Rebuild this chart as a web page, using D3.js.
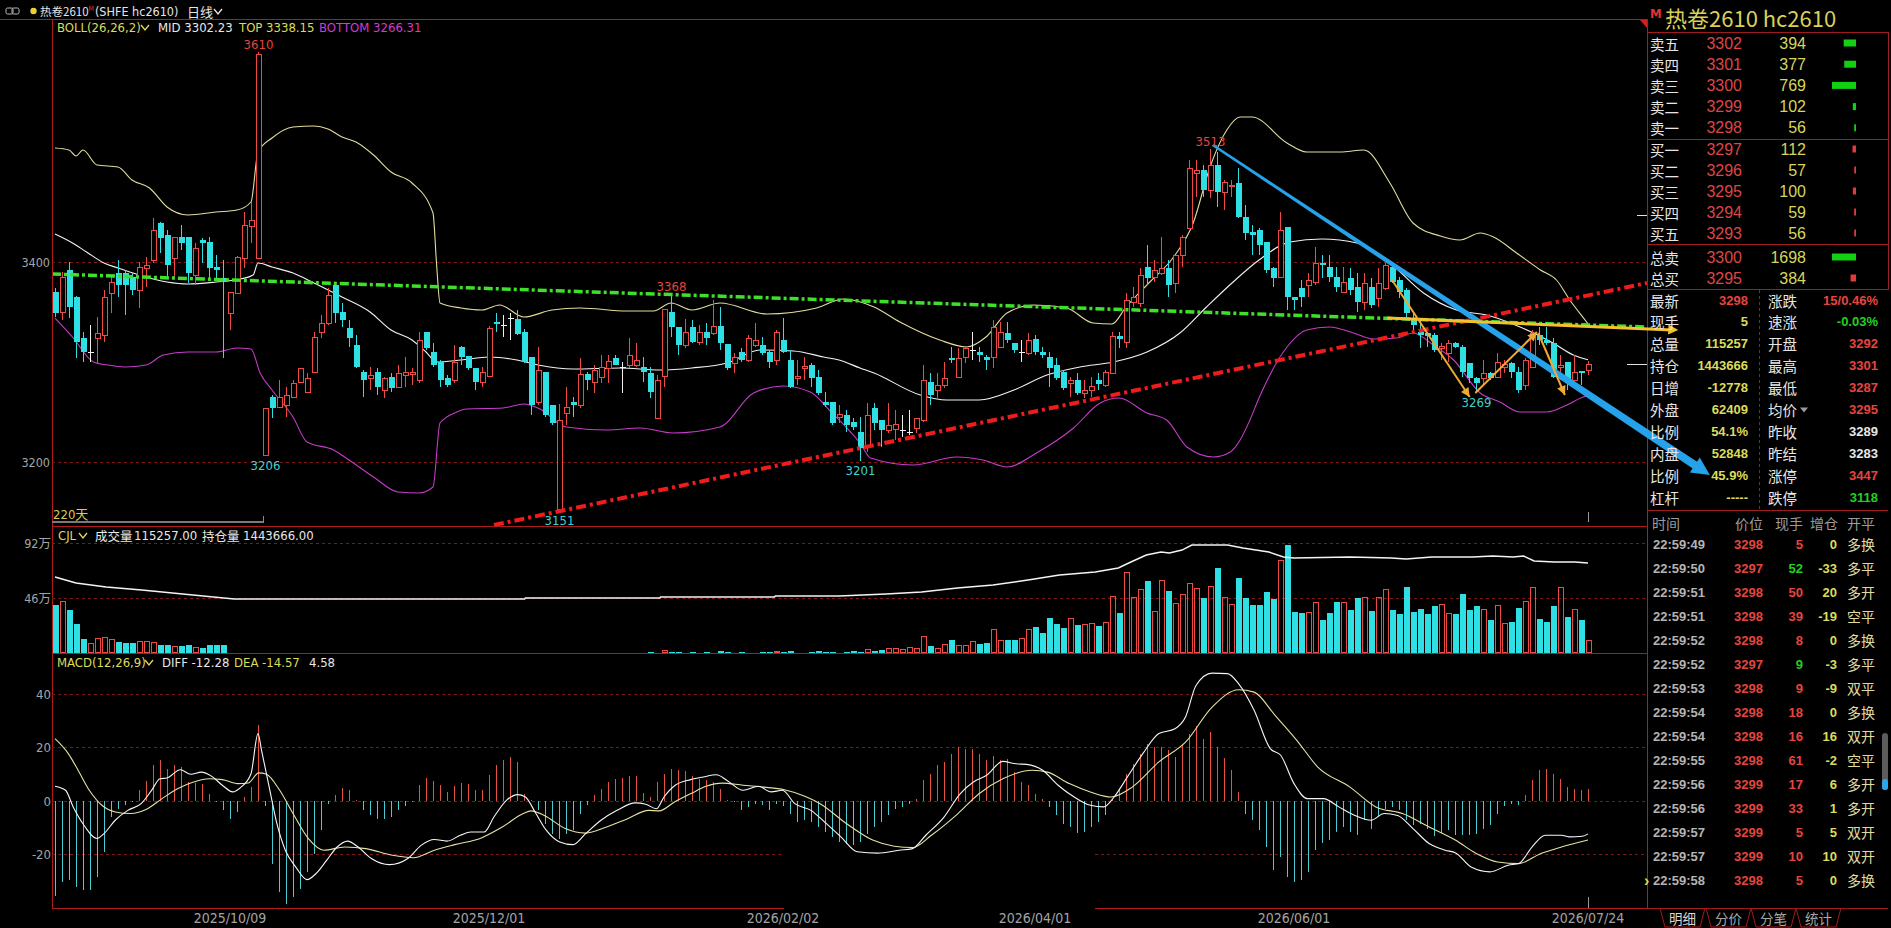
<!DOCTYPE html>
<html>
<head>
<meta charset="utf-8">
<title>热卷2610 日线</title>
<script src="https://cdn.jsdelivr.net/npm/d3@7"></script>
<style>
  html, body { margin: 0; background: #000; overflow: hidden; }
  svg { display: block; }
  text { font-family: "Liberation Sans Narrow", "DejaVu Sans Condensed", "Noto Sans CJK SC", sans-serif; }
  .cjk { font-family: "Noto Sans CJK SC", sans-serif; }
  .num { font-family: "Liberation Sans", Arial, sans-serif; }
</style>
</head>
<body>
<div id="chart"></div>
<script>
// daily candles [open, high, low, close], oldest first (220 days)
const ohlc = [
  [3370,3374,3345,3349],[3350,3390,3342,3385],[3392,3400,3344,3355],[3365,3366,3304,3320],[3324,3330,3300,3310],
  [3310,3337,3300,3310],[3324,3345,3299,3329],[3327,3372,3320,3365],[3369,3385,3349,3380],[3389,3402,3365,3377],
  [3389,3392,3347,3377],[3385,3389,3367,3372],[3372,3400,3354,3395],[3394,3405,3375,3397],[3402,3444,3399,3432],
  [3439,3440,3409,3424],[3427,3432,3384,3397],[3404,3425,3385,3425],[3425,3437,3412,3419],[3425,3425,3379,3389],
  [3387,3419,3377,3414],[3422,3424,3399,3419],[3420,3425,3382,3394],[3395,3407,3384,3392],[3384,3402,3304,3380],
  [3349,3370,3332,3370],[3369,3406,3368,3405],[3404,3450,3394,3437],[3436,3460,3419,3442],[3404,3610,3404,3608],
  [3207,3254,3206,3254],[3265,3267,3244,3254],[3255,3282,3254,3265],[3257,3275,3245,3267],[3265,3282,3264,3279],
  [3280,3294,3279,3294],[3270,3289,3269,3284],[3290,3330,3289,3325],[3330,3347,3324,3339],[3339,3374,3337,3367],
  [3377,3379,3339,3349],[3350,3359,3335,3342],[3334,3342,3315,3324],[3317,3327,3294,3295],[3290,3292,3265,3282],
  [3284,3295,3272,3287],[3290,3294,3267,3275],[3272,3285,3264,3284],[3285,3289,3270,3274],[3275,3297,3274,3289],
  [3287,3305,3275,3290],[3288,3294,3277,3290],[3282,3330,3279,3322],[3330,3330,3312,3314],[3310,3319,3295,3297],
  [3300,3302,3275,3282],[3284,3287,3275,3277],[3282,3317,3279,3300],[3315,3316,3297,3305],[3306,3306,3292,3294],
  [3294,3294,3272,3280],[3280,3295,3275,3290],[3286,3336,3285,3334],[3340,3349,3330,3338],[3337,3347,3325,3337],
  [3344,3349,3322,3344],[3343,3352,3327,3328],[3330,3333,3299,3300],[3305,3305,3247,3257],[3260,3315,3257,3292],
  [3290,3290,3245,3247],[3257,3257,3237,3239],[3153,3258,3151,3242],[3249,3275,3237,3255],[3260,3265,3245,3257],
  [3257,3304,3254,3288],[3288,3290,3272,3282],[3280,3297,3269,3292],[3285,3307,3279,3295],[3294,3307,3279,3301],
  [3304,3307,3297,3297],[3295,3300,3269,3295],[3297,3324,3294,3307],[3297,3319,3295,3302],[3295,3305,3280,3290],
  [3289,3295,3264,3270],[3244,3287,3244,3282],[3286,3353,3275,3353],[3350,3368,3325,3335],[3335,3335,3307,3317],
  [3317,3343,3314,3330],[3335,3342,3319,3320],[3320,3337,3317,3330],[3330,3339,3317,3324],[3329,3362,3327,3336],
  [3336,3355,3312,3319],[3318,3318,3292,3294],[3299,3309,3289,3305],[3310,3314,3300,3302],[3302,3327,3300,3324],
  [3317,3339,3315,3322],[3317,3325,3307,3309],[3310,3312,3294,3300],[3302,3332,3297,3330],[3322,3344,3309,3310],
  [3302,3312,3274,3275],[3284,3302,3277,3286],[3294,3305,3282,3296],[3297,3299,3275,3284],[3285,3292,3267,3269],
  [3260,3270,3255,3257],[3260,3260,3237,3239],[3245,3257,3239,3248],[3247,3252,3230,3237],[3240,3244,3232,3235],
  [3230,3245,3201,3214],[3215,3259,3210,3247],[3254,3259,3232,3239],[3242,3242,3215,3232],[3232,3259,3229,3237],
  [3233,3252,3222,3238],[3232,3247,3225,3232],[3230,3252,3227,3230],[3234,3244,3229,3244],[3242,3297,3240,3282],
  [3280,3289,3257,3267],[3272,3289,3264,3277],[3277,3300,3274,3284],[3304,3315,3299,3302],[3285,3314,3284,3304],
  [3305,3315,3299,3314],[3312,3330,3302,3312],[3310,3315,3300,3307],[3305,3307,3292,3302],[3305,3342,3294,3335],
  [3315,3340,3314,3330],[3329,3340,3319,3322],[3319,3319,3309,3312],[3310,3322,3300,3310],[3309,3329,3307,3322],
  [3323,3327,3307,3310],[3310,3315,3304,3307],[3305,3310,3275,3294],[3297,3304,3282,3284],[3290,3292,3272,3274],
  [3279,3285,3265,3282],[3282,3289,3267,3269],[3269,3282,3264,3272],[3272,3285,3265,3276],[3282,3289,3272,3278],
  [3277,3292,3275,3290],[3289,3330,3289,3326],[3326,3330,3314,3323],[3320,3369,3314,3362],[3360,3375,3355,3365],
  [3359,3394,3355,3387],[3395,3417,3377,3384],[3385,3402,3380,3392],[3389,3425,3387,3394],[3394,3402,3365,3377],
  [3379,3407,3369,3407],[3407,3427,3395,3425],[3434,3502,3434,3494],[3489,3502,3465,3492],[3492,3497,3465,3472],
  [3472,3513,3464,3497],[3497,3510,3455,3470],[3470,3482,3452,3480],[3476,3482,3465,3477],[3479,3494,3444,3445],
  [3445,3457,3422,3429],[3430,3437,3407,3427],[3432,3434,3407,3417],[3420,3420,3389,3392],[3394,3395,3375,3384],
  [3385,3450,3384,3432],[3435,3435,3352,3365],[3365,3365,3352,3362],[3374,3382,3355,3365],[3377,3389,3365,3382],
  [3380,3415,3377,3399],[3399,3407,3384,3397],[3395,3407,3380,3385],[3385,3395,3370,3375],[3370,3395,3369,3380],
  [3384,3394,3367,3372],[3375,3389,3350,3360],[3360,3389,3352,3379],[3375,3384,3354,3357],[3364,3394,3355,3379],
  [3374,3399,3372,3397],[3395,3399,3379,3380],[3382,3385,3364,3370],[3372,3374,3344,3349],[3344,3349,3329,3337],
  [3330,3342,3314,3327],[3329,3330,3315,3326],[3327,3329,3310,3312],[3314,3319,3302,3316],[3309,3322,3300,3319],
  [3319,3320,3314,3315],[3315,3317,3285,3290],[3299,3299,3279,3284],[3284,3285,3269,3279],[3284,3302,3277,3289],
  [3289,3290,3282,3284],[3285,3309,3284,3300],[3295,3302,3289,3298],[3299,3300,3284,3290],[3290,3295,3269,3272],
  [3277,3304,3272,3302],[3295,3332,3294,3329],[3327,3335,3317,3322],[3322,3335,3317,3319],[3319,3324,3284,3285],
  [3295,3307,3282,3297],[3300,3300,3272,3279],[3282,3307,3279,3290],[3291,3291,3277,3289],[3292,3301,3287,3298]
];

// daily volume, in 万 lots
const volumeWan = [
  40.1,43.5,36.0,24.3,11.7,8.4,12.5,13.4,11.7,9.2,8.4,8.4,10.0,10.0,9.2,6.7,6.7,5.9,5.9,6.7,5.0,4.2,6.7,6.7,6.7,
  0.3,0.2,0.9,0.3,0.4,0.3,0.2,0.2,0.1,0.2,0.2,0.1,0.2,0.2,0.3,0.2,0.1,0.2,0.2,0.1,0.2,0.2,0.1,0.2,0.2,
  0.2,0.1,0.2,0.3,0.2,0.2,0.1,0.2,0.2,0.2,0.3,0.2,0.3,0.2,0.2,0.3,0.2,0.3,0.2,0.3,0.4,0.3,1.0,0.4,0.3,
  0.4,0.3,0.4,0.5,1.2,0.4,0.8,0.9,0.5,0.4,0.6,1.0,2.5,1.2,0.8,1.0,0.6,0.7,0.9,1.0,1.4,0.8,0.7,0.9,1.2,
  0.8,0.9,1.1,1.3,1.0,1.6,0.9,1.0,1.2,1.5,0.9,1.2,1.0,
  1.1,1.7,1.1,3.1,2.0,2.5,3.9,3.9,3.3,4.7,3.9,14.2,5.9,3.9,7.2,10.9,6.7,6.7,10.3,7.5,8.4,20.1,10.9,10.9,10.9,
  12.3,20.1,22.0,16.4,29.0,24.2,20.6,29.0,23.4,24.0,24.8,22.6,25.6,47.9,33.2,67.4,46.5,53.2,60.2,35.1,61.0,51.8,41.5,49.3,58.2,
  54.1,45.7,56.0,70.8,46.5,41.0,62.4,45.7,40.1,40.1,51.3,45.1,77.8,90.3,34.0,33.2,34.0,42.4,27.6,33.2,42.4,42.4,36.0,45.7,46.5,
  35.1,47.1,53.2,36.0,32.3,54.9,34.0,36.5,32.3,39.3,40.7,33.2,32.3,49.3,36.0,39.3,36.5,27.6,39.9,24.8,25.9,37.3,43.5,54.9,28.4,
  25.9,39.3,55.5,29.8,36.5,27.6,10.9
];

// MACD histogram, one bar per day
const macdHist = [
  -35.6,-30.3,-29.6,-32.1,-33.4,-33.1,-28.4,-19,-6,-2.9,-1.6,-0.3,4.2,7.3,13.3,15.2,11.8,13.3,12.7,7.1,
  6.7,6.5,2.7,-0.5,-3.2,-6.6,-4.1,1.5,5.2,28.3,-2,-23.4,-34,-38.4,-35.9,-32.8,-26.5,-19.7,-11,-1,
  2.1,5,4.2,0.3,-3.5,-5.4,-6.6,-6.6,-6,-3.5,-2,-0.3,5.9,8.6,7.3,5.9,3.4,5.5,6.7,6.5,
  4.2,4.2,9.6,13.3,15.2,16.4,14.6,2.7,0.3,-3.5,-8.5,-12.2,-14.1,-12.2,-10.7,-4.7,-1.6,2.1,4.6,7.1,
  8.3,8.6,9.2,9.2,3,1.5,7.1,10.2,12.1,11.5,11.2,9.2,8.3,7.7,7.1,4.6,0.3,-0.3,-3.5,-2.2,
  -1.2,-1.6,-3.5,-1.2,-2,-4.7,-7.8,-7.2,-7.8,-9.7,-11.6,-13.4,-15.3,-15.9,-16.6,-15.3,-12.2,-9.7,-7.8,-5.4,
  -2.9,-2.2,-1,0.9,7.7,10,13.3,14.6,17.4,20.2,19.6,19.6,17.7,15.2,16.7,15.2,15.8,10.8,7.1,5.9,
  2.7,0.9,-2.2,-5.4,-8.5,-9.7,-12,-11.6,-9.7,-7.8,-5.4,0.9,4.6,10.2,13.9,17.7,21.2,20.2,20.2,18.9,
  16.4,20.8,25.2,27.9,23.3,25.8,20.2,16.2,11.5,3.4,-4.7,-7.2,-11,-17.2,-25.9,-20.9,-28.4,-30.3,-29.6,-26.5,
  -18.4,-15.7,-14.7,-11.6,-9.7,-11.6,-12.8,-7.2,-10.3,-6,-2.9,-2.2,-3.5,-7.2,-9.1,-8.5,-10.3,-13.2,-12,-11,
  -12.6,-12.8,-12.8,-12.2,-10.3,-9.1,-4.7,-2,-1,-1.6,2.1,7.7,11.5,12.1,10.2,8.3,5.2,4.6,4,4.58
];

// MACD lines: [day index, value]
const diffLine = [
  [0,5.5],[1.5,4],[2.6,-2.2],[4,-8.5],[6,-14],[7,-12.2],[8.6,-7.2],[10.4,-3.5],[12.3,-1],[13.8,4],[15,8.3],[16,8.6],
  [17.9,11.7],[19.4,10],[20.9,10.8],[22.4,9.2],[23.9,5.9],[25.4,3.4],[26.5,5],[28,10.2],[29,25.2],[29.5,19],[30.6,5.2],
  [31.7,-8.5],[32.9,-18.4],[34.4,-24.7],[36,-29.4],[37.3,-27.1],[38.8,-22.2],[40.3,-17.2],[41.8,-15],[43.3,-17.2],
  [45.2,-21.5],[47.8,-23.8],[50.4,-21.5],[52.3,-16.6],[54.2,-14.4],[56,-15],[57.9,-12.8],[59.4,-11.6],[61.3,-11.6],
  [62.7,-6],[64.6,0.5],[66.1,2.4],[67.2,1.5],[68.7,-4.7],[70.2,-11],[72.1,-15.3],[74,-16.3],[75.8,-12.2],[78,-7.2],
  [80.3,-3.5],[82.9,-0.7],[84.4,-1.2],[85.9,-2.9],[87,1.5],[88.6,5.9],[90.8,8],[92.6,9],[94.5,9.8],[96,7.7],[98.3,4],
  [100.5,5.5],[102.3,3.4],[103.9,4],[105.7,-1],[108,-3.5],[110,-8],[112.3,-13.5],[114.6,-19],[117.5,-19.5],
  [120.6,-18.4],[122.5,-17.8],[124.4,-12.8],[127,-6],[129.3,2.7],[131.2,7.1],[133.1,9.6],[135.4,14.8],[137.3,13.9],
  [138.8,13.7],[141.1,11.5],[143.3,5.9],[145.6,1.5],[147.9,-1.6],[149.8,-2.2],[151.3,1.5],[153.2,9],[155.4,17.7],
  [157.7,25.2],[160,27],[161.5,31.4],[163,43.2],[165.3,47.8],[167.5,47.6],[169.1,43.8],[171.3,33.9],[173.6,19.6],
  [175.1,17.1],[177,6.5],[178.9,0.9],[181.2,0.9],[183.4,-2.2],[185.7,-5.4],[188,-7.2],[189.9,-4.7],[191.8,-5.4],
  [194,-10.3],[196.3,-15.9],[198.6,-18.4],[200.1,-19.4],[202.3,-24.7],[205,-26.5],[207.6,-24],[209.1,-23.4],
  [211,-17.2],[212.9,-12.8],[215.2,-12.8],[216.3,-13.4],[218.2,-13.2],[219,-12.28]
];
const deaLine = [
  [0,23.3],[1.9,17.7],[3.3,11.5],[4.9,4],[6.7,-1.6],[8.6,-4.1],[10.8,-4.7],[13,-3.2],[15.3,0.9],[17.5,4.6],[19.8,7.1],
  [22,8.3],[23.9,8],[26.1,6.5],[27.6,6.7],[29.1,10.5],[30.2,10],[32.1,4],[34,-4.7],[36.2,-14.1],[38.4,-18.4],
  [41.4,-17.2],[44.4,-17.8],[48.2,-20.3],[51.2,-21.2],[54.2,-18.4],[57.1,-16.3],[60.9,-13.8],[63.9,-9.7],[66.9,-4.7],
  [68,-3.7],[69.9,-5.4],[72.9,-10.3],[75.8,-12],[78.8,-9.7],[81.8,-6.6],[84.8,-3.5],[86.3,-3.7],[88.5,-0.4],
  [90.8,2.7],[93,5.5],[95.3,6.7],[98.3,5.9],[101.3,5.2],[104.2,4.2],[107.2,1.7],[109.3,-1],[113.1,-8.5],
  [116.9,-14.7],[119.9,-16.9],[122.5,-17.4],[125.2,-12.8],[129,-4.7],[132,2.7],[135.4,8.3],[139.6,11.5],
  [141.8,10.8],[144.9,6.5],[147.9,3.4],[150.9,1.5],[153.9,5.2],[157.7,14.6],[161.5,22],[165.3,35.1],[169.1,41.6],
  [171.3,40.7],[174.3,32],[177.4,22.7],[180.4,12.7],[185,5.2],[188.7,-2.2],[192.5,-4.7],[196.3,-9.7],[200.1,-14.7],
  [203.1,-19.7],[206.1,-22.8],[209.1,-23.4],[212.2,-19.7],[215.2,-17.2],[219,-14.57]
];

// BOLL(26,26,2) bands: [day index, price]
const bollTop = [
  [0,3514],[2,3512],[3,3506],[4,3512],[6,3497],[9,3495],[11,3482],[13.5,3474],[16,3455],[19,3447],[23,3450],[26,3452],
  [28,3460],[29,3510],[31,3524],[34,3535],[37,3536],[39,3533],[41,3525],[43,3520],[45.5,3507],[48,3490],[51,3479],
  [54,3449],[54.5,3399],[55,3359],[58,3354],[61,3352],[63.5,3357],[67,3345],[71,3352],[75,3354],[81.7,3351],
  [85.5,3351],[88,3359],[91,3352],[95,3359],[101.7,3348],[108.8,3354],[112.6,3363],[117,3355],[120.7,3340],
  [126.4,3322],[130.2,3315],[133,3325],[136,3349],[139.8,3357],[144.5,3354],[148.3,3339],[151,3338],[153,3355],
  [156.4,3380],[159.8,3405],[162.6,3439],[165,3495],[167.4,3532],[169.3,3545],[171,3545],[176,3519],[178.8,3510],
  [183.6,3510],[187,3512],[190.7,3479],[194,3439],[197.9,3426],[200.7,3422],[203.6,3429],[205.5,3425],[208.8,3409],
  [212.2,3392],[214.5,3382],[216.4,3362],[218.8,3340],[219,3338.15]
];
const bollMid = [
  [0,3428],[2.5,3419],[4.5,3410],[7,3399],[9,3394],[12,3387],[16,3380],[19,3378],[23,3380],[26.5,3383],[28.3,3387],
  [29,3399],[31,3395],[34,3389],[37,3379],[41,3365],[45,3350],[48,3332],[51,3322],[53,3310],[54.5,3300],[58,3302],
  [62,3305],[66,3302],[69,3297],[74,3293],[80.7,3294],[86.4,3292],[91,3294],[96,3299],[100.7,3312],[105.5,3311],
  [109.8,3305],[112,3302],[115,3294],[117,3289],[123.6,3267],[127.4,3262],[132,3262],[137,3272],[141.7,3287],
  [146.4,3295],[151.2,3300],[156,3310],[160.7,3329],[164.5,3355],[168.3,3380],[172,3402],[176.4,3420],[181,3423],
  [186,3419],[190.7,3399],[195.5,3369],[200.2,3352],[204.5,3347],[209.3,3335],[214,3319],[216.9,3307],[219,3302.23]
];
const bollBottom = [
  [0,3344],[2.5,3325],[5.5,3300],[7.5,3297],[10,3295],[13,3297],[15.5,3307],[19,3310],[23,3310],[26,3314],[28,3313],
  [29.3,3289],[31,3272],[34,3245],[36,3220],[39.8,3212],[42,3202],[45.5,3185],[49,3170],[52,3169],[54,3175],
  [55,3239],[57.4,3250],[58.8,3253],[64,3254],[67,3258],[69.3,3253],[73,3235],[78.8,3232],[83.6,3234],[88.3,3229],
  [95,3235],[99.8,3269],[104,3276],[107.9,3270],[111,3249],[113,3235],[115,3219],[116.5,3204],[122.6,3197],
  [128.8,3205],[132.6,3202],[136,3195],[140.2,3209],[145.5,3234],[149.3,3259],[152,3264],[156,3249],[158.8,3242],
  [161.7,3215],[165.5,3205],[167.9,3210],[169.3,3222],[170.7,3242],[172,3264],[176,3315],[178.8,3332],[182.1,3335],
  [185.5,3329],[188.3,3323],[191.7,3324],[194,3329],[196.9,3317],[199.8,3302],[203.6,3269],[206.4,3260],
  [209.3,3250],[213.1,3250],[216,3257],[218.3,3265],[219,3266.31]
];

// open interest (lots): [day index, value]
const oiLine = [
  [0,1219000],[3,1122800],[7.3,1058600],[12.4,1010500],[19.7,930300],[25.6,866200],[67.1,866200],[67.2,882200],
  [86.4,882200],[86.5,898200],[102.8,898200],[102.9,914300],[112,914300],[118.7,946400],[123.8,978400],
  [128.9,1042600],[134,1090700],[139,1170900],[143.5,1251100],[148.6,1299200],[151.9,1363400],[153.7,1459600],
  [155.9,1571900],[158,1620000],[159.2,1604000],[161,1652100],[162.4,1732300],[167.5,1732300],[169.7,1684200],
  [173.4,1620000],[175.5,1539800],[177,1523800],[185,1539800],[190.9,1523800],[193,1507800],[196.7,1539800],
  [202.5,1539800],[205.4,1555900],[208.3,1539800],[209.8,1555900],[211.3,1475700],[214.2,1459600],[217.1,1459600],
  [219,1443666]
];

const priceTicks = [3400, 3200];
const volTicks = [[92, "92万"], [46, "46万"]];
const macdTicks = [40, 20, 0, -20];
const dateTicks = [[25, "2025/10/09"], [62, "2025/12/01"], [104, "2026/02/02"], [140, "2026/04/01"], [177, "2026/06/01"], [219, "2026/07/24"]];
// marked highs / lows: [day index, "h" | "l"]
const extremes = [[29, "h"], [30, "l"], [72, "l"], [88, "h"], [115, "l"], [165, "h"], [203, "l"]];

// hand-drawn lines: [day index, price] endpoints
const supportLines = [
  { from: [-0.43, 3388], to: [227.43, 3335], color: "#3fe02a", width: 3.5, dash: "9,3,3,3" },
  { from: [62.7, 3137], to: [227.43, 3379], color: "#f01c1c", width: 4, dash: "10,4,3,4" }
];
const blueArrow = { from: [165.4, 3517], to: [236.4, 3187] };
const yellowArrow = { from: [190.3, 3344], to: [231.9, 3332] };
const zigzag = [
  [[191, 3382], [202.1, 3265]],
  [[202.9, 3269], [211.7, 3330]],
  [[211.9, 3329], [215.7, 3267]]
];

// order book and quote panel
const askBook = [["卖五", 3302, 394], ["卖四", 3301, 377], ["卖三", 3300, 769], ["卖二", 3299, 102], ["卖一", 3298, 56]];
const bidBook = [["买一", 3297, 112], ["买二", 3296, 57], ["买三", 3295, 100], ["买四", 3294, 59], ["买五", 3293, 56]];
const bookTotals = [["总卖", 3300, 1698, "ask"], ["总买", 3295, 384, "bid"]];
const quoteLeft = [["最新", "3298", "r"], ["现手", "5", "y"], ["总量", "115257", "y"], ["持仓", "1443666", "y"], ["日增", "-12778", "y"],
  ["外盘", "62409", "y"], ["比例", "54.1%", "y"], ["内盘", "52848", "y"], ["比例", "45.9%", "y"], ["杠杆", "-----", "y"]];
const quoteRight = [["涨跌", "15/0.46%", "r"], ["速涨", "-0.03%", "g"], ["开盘", "3292", "r"], ["最高", "3301", "r"], ["最低", "3287", "r"],
  ["均价", "3295", "r"], ["昨收", "3289", "w"], ["昨结", "3283", "w"], ["涨停", "3447", "r"], ["跌停", "3118", "g"]];
const trades = [
  ["22:59:49", 3298, 5, "r", 0, "多换"], ["22:59:50", 3297, 52, "g", -33, "多平"], ["22:59:51", 3298, 50, "r", 20, "多开"],
  ["22:59:51", 3298, 39, "r", -19, "空平"], ["22:59:52", 3298, 8, "r", 0, "多换"], ["22:59:52", 3297, 9, "g", -3, "多平"],
  ["22:59:53", 3298, 9, "r", -9, "双平"], ["22:59:54", 3298, 18, "r", 0, "多换"], ["22:59:54", 3298, 16, "r", 16, "双开"],
  ["22:59:55", 3298, 61, "r", -2, "空平"], ["22:59:56", 3299, 17, "r", 6, "多开"], ["22:59:56", 3299, 33, "r", 1, "多开"],
  ["22:59:57", 3299, 5, "r", 5, "双开"], ["22:59:57", 3299, 10, "r", 10, "双开"], ["22:59:58", 3298, 5, "r", 0, "多换"]
];
const tabs = ["明细", "分价", "分笔", "统计"];

const COLORS = {
  up: "#f04a44", down: "#2ee0e4", doji: "#f0f0f0",
  r: "#e8443e", y: "#dcdc5a", g: "#22d022", w: "#e8e8e8",
  frame: "#b01c1c", grid: "#7c1a1a", axis: "#a4a4a4",
  top: "#e2dc9c", mid: "#f2f2f2", bottom: "#c43cc8",
  histUp: "#e85040", histDown: "#48ccd4"
};

class FuturesChart {
  constructor({ el }) {
    this.el = el;
    this.init();
  }

  init() {
    this.width = 1891;
    this.height = 928;
    this.p = { left: 52, right: 1647, top: 19, mainBottom: 526, volBottom: 653, macdBottom: 908 };

    this.x = d3.scaleLinear().domain([0, 219]).range([55, 1588]);
    this.y = d3.scaleLinear().domain([3200, 3400]).range([462, 262]);
    this.yVol = d3.scaleLinear().domain([0, 92]).range([653, 543]);
    this.yOi = d3.scaleLinear().domain([0, 1443666]).range([653, 563]);
    this.yMacd = d3.scaleLinear().domain([-20, 40]).range([854.5, 694]);

    this.svg = d3.select(this.el).append("svg")
      .attr("width", this.width)
      .attr("height", this.height)
      .style("background", "#000");

    const defs = this.svg.append("defs");
    defs.append("clipPath").attr("id", "clip-main").append("rect")
      .attr("x", this.p.left + 1).attr("y", this.p.top + 1)
      .attr("width", this.p.right - this.p.left - 1).attr("height", this.p.mainBottom - this.p.top - 1);

    this.gFrame = this.svg.append("g");
    this.gMain = this.svg.append("g").attr("clip-path", "url(#clip-main)");
    this.gVol = this.svg.append("g");
    this.gMacd = this.svg.append("g");
    this.gDraw = this.svg.append("g");
    this.gText = this.svg.append("g");
    this.gSide = this.svg.append("g");

    this.render();
  }

  render() {
    this.renderFrame();
    this.renderBoll();
    this.renderCandles();
    this.renderLines();
    this.renderVolume();
    this.renderMacd();
    this.renderLegends();
    this.renderSide();
  }

  hline(g, x1, x2, y, color, dash, w = 1) {
    return g.append("line").attr("x1", x1).attr("x2", x2).attr("y1", y).attr("y2", y)
      .attr("stroke", color).attr("stroke-width", w)
      .attr("stroke-dasharray", dash || null).attr("shape-rendering", "crispEdges");
  }

  vline(g, x, y1, y2, color, dash, w = 1) {
    return g.append("line").attr("x1", x).attr("x2", x).attr("y1", y1).attr("y2", y2)
      .attr("stroke", color).attr("stroke-width", w)
      .attr("stroke-dasharray", dash || null).attr("shape-rendering", "crispEdges");
  }

  label(g, x, y, str, color, size, anchor = "start", cls = null, weight = null) {
    return g.append("text").attr("x", x).attr("y", y).attr("fill", color)
      .attr("font-size", size).attr("text-anchor", anchor)
      .attr("dominant-baseline", "central").attr("class", cls)
      .attr("font-weight", weight).text(str);
  }

  chevron(g, x, y, color) {
    g.append("path").attr("d", `M${x},${y - 2.5} L${x + 4},${y + 2.5} L${x + 8},${y - 2.5}`)
      .attr("fill", "none").attr("stroke", color).attr("stroke-width", 1.3);
  }

  renderFrame() {
    const g = this.gFrame, p = this.p;
    // title bar
    g.append("rect").attr("x", 6).attr("y", 8).attr("width", 7).attr("height", 6).attr("rx", 1.5)
      .attr("fill", "none").attr("stroke", "#bbb");
    g.append("rect").attr("x", 12).attr("y", 8).attr("width", 7).attr("height", 6).attr("rx", 1.5)
      .attr("fill", "none").attr("stroke", "#bbb");
    g.append("circle").attr("cx", 33.5).attr("cy", 11).attr("r", 3.2).attr("fill", "#e8d030");
    const title = g.append("text").attr("x", 40).attr("y", 15.5).attr("fill", "#e6e6e6").attr("font-size", 12.5);
    title.append("tspan").attr("class", "cjk").attr("font-size", 11.5).text("热卷2610");
    title.append("tspan").attr("fill", "#e83030").attr("font-size", 7).attr("dy", -5).text("M");
    title.append("tspan").attr("dy", 5).attr("dx", 1).text("(SHFE hc2610)");
    this.label(g, 187, 11, "日线", "#e6e6e6", 13, "start", "cjk");
    this.chevron(g, 214, 11.5, "#e6e6e6");

    this.hline(g, 0, p.right, p.top, COLORS.frame);
    // panel borders
    this.vline(g, p.left, p.top, p.macdBottom, COLORS.frame);
    this.vline(g, p.right, p.top, p.macdBottom, COLORS.frame);
    this.hline(g, p.left, p.right, p.mainBottom, COLORS.frame);
    this.hline(g, p.left, p.right, p.volBottom, COLORS.frame);
    this.hline(g, p.left, 784, p.macdBottom, COLORS.frame);
    this.hline(g, 1095, p.right, p.macdBottom, COLORS.frame);

    // grids and axis labels
    priceTicks.forEach((t) => {
      this.hline(g, p.left, p.right, this.y(t), COLORS.grid, "3,3");
      this.label(g, 50, this.y(t), t, COLORS.axis, 12.5, "end");
    });
    volTicks.forEach(([t, s]) => {
      this.hline(g, p.left, p.right, this.yVol(t), COLORS.grid, "3,3");
      this.label(g, 51, this.yVol(t), s, COLORS.axis, 12.5, "end");
    });
    macdTicks.forEach((t) => {
      if (t === -20) {
        this.hline(g, p.left, 782, this.yMacd(t), COLORS.grid, "3,3");
        this.hline(g, 1095, p.right, this.yMacd(t), COLORS.grid, "3,3");
      } else {
        this.hline(g, p.left, p.right, this.yMacd(t), COLORS.grid, "3,3");
      }
      this.label(g, 51, this.yMacd(t), t, COLORS.axis, 13, "end");
    });
    dateTicks.forEach(([i, s]) => {
      this.label(g, this.x(i), 918, s, COLORS.axis, 14, "middle");
    });

    // scroll bar + day count
    g.append("rect").attr("x", p.left).attr("y", 521).attr("width", 211).attr("height", 2).attr("fill", "#7a7a7a");
    this.vline(g, 263, 516, 523, "#8a8a8a");
    this.label(g, 53, 514, "220天", "#d8cc50", 13, "start");

    // cursor marks at the last day
    const xl = this.x(ohlc.length - 1);
    this.vline(g, xl, 512, 522, "#9a9a9a");
    this.vline(g, xl, 897, 908, "#9a9a9a");
  }

  renderBoll() {
    const line = d3.line()
      .x((d) => this.x(d[0]))
      .y((d) => this.y(d[1]))
      .curve(d3.curveMonotoneX);
    [[bollTop, COLORS.top], [bollMid, COLORS.mid], [bollBottom, COLORS.bottom]].forEach(([data, c]) => {
      this.gMain.append("path").attr("d", line(data)).attr("fill", "none")
        .attr("stroke", c).attr("stroke-width", 1.1);
    });
  }

  renderCandles() {
    const g = this.gMain.append("g").attr("class", "candles");
    ohlc.forEach(([o, h, l, c], i) => {
      const cx = this.x(i);
      const doji = Math.abs(c - o) < 1;
      const up = c > o;
      const top = this.y(Math.max(o, c)), bot = this.y(Math.min(o, c));
      if (doji) {
        this.vline(g, cx + 0.5, this.y(h), this.y(l), COLORS.doji);
        this.hline(g, cx - 2.5, cx + 3.5, Math.round(this.y(c)) + 0.5, COLORS.doji);
      } else if (up) {
        this.vline(g, cx + 0.5, this.y(h), top, COLORS.up);
        this.vline(g, cx + 0.5, bot, this.y(l), COLORS.up);
        g.append("rect").attr("x", cx - 2).attr("y", Math.round(top) + 0.5)
          .attr("width", 5).attr("height", Math.max(1, Math.round(bot - top)))
          .attr("fill", "#000").attr("stroke", COLORS.up).attr("stroke-width", 1)
          .attr("shape-rendering", "crispEdges");
      } else {
        this.vline(g, cx + 0.5, this.y(h), this.y(l), COLORS.down);
        g.append("rect").attr("x", cx - 2).attr("y", Math.round(top))
          .attr("width", 6).attr("height", Math.max(1.5, Math.round(bot - top)))
          .attr("fill", COLORS.down).attr("shape-rendering", "crispEdges");
      }
    });

    // high / low marks
    extremes.forEach(([i, kind]) => {
      const [, h, l] = ohlc[i];
      if (kind === "h") {
        this.label(this.gText, this.x(i) + 0.5, this.y(h) - 8, h, COLORS.r, 13, "middle");
      } else {
        this.label(this.gText, this.x(i) + 0.5, this.y(l) + 9, l, "#3cd2d2", 13, "middle");
      }
    });

    // latest price and limit-up markers at the right edge
    this.hline(this.gText, 1627, this.p.right, this.y(3298), "#e0e0e0");
    this.hline(this.gText, 1637, this.p.right, this.y(3447), "#e0e0e0");
  }

  arrowHead(g, a, b, len, half, color) {
    const dx = b[0] - a[0], dy = b[1] - a[1];
    const d = Math.hypot(dx, dy), ux = dx / d, uy = dy / d;
    const bx = b[0] - ux * len, by = b[1] - uy * len;
    g.append("path")
      .attr("d", `M${b[0]},${b[1]} L${bx - uy * half},${by + ux * half} L${bx + uy * half},${by - ux * half} Z`)
      .attr("fill", color);
  }

  renderLines() {
    const pt = (d) => [this.x(d[0]), this.y(d[1])];
    supportLines.forEach((s) => {
      const a = pt(s.from), b = pt(s.to);
      this.gMain.append("line").attr("x1", a[0]).attr("y1", a[1]).attr("x2", b[0]).attr("y2", b[1])
        .attr("stroke", s.color).attr("stroke-width", s.width).attr("stroke-dasharray", s.dash);
    });

    const g = this.gDraw;
    // blue downtrend arrow, widening toward the tip
    const a = pt(blueArrow.from), b = pt(blueArrow.to);
    const dx = b[0] - a[0], dy = b[1] - a[1];
    const d = Math.hypot(dx, dy), ux = dx / d, uy = dy / d;
    const e = [b[0] - ux * 16, b[1] - uy * 16];
    const w0 = 1.2, w1 = 4;
    g.append("path")
      .attr("d", `M${a[0] - uy * w0},${a[1] + ux * w0} L${e[0] - uy * w1},${e[1] + ux * w1} ` +
        `L${e[0] + uy * w1},${e[1] - ux * w1} L${a[0] + uy * w0},${a[1] - ux * w0} Z`)
      .attr("fill", "#26a2ea");
    this.arrowHead(g, a, b, 18, 9, "#26a2ea");

    // yellow resistance arrow
    const ya = pt(yellowArrow.from), yb = pt(yellowArrow.to);
    g.append("line").attr("x1", ya[0]).attr("y1", ya[1]).attr("x2", yb[0] - 6).attr("y2", yb[1])
      .attr("stroke", "#f2c22c").attr("stroke-width", 3);
    this.arrowHead(g, ya, yb, 10, 5, "#f2c22c");

    // orange zig-zag
    zigzag.forEach(([s, t]) => {
      const p0 = pt(s), p1 = pt(t);
      g.append("line").attr("x1", p0[0]).attr("y1", p0[1]).attr("x2", p1[0]).attr("y2", p1[1])
        .attr("stroke", "#f0aa34").attr("stroke-width", 2);
      this.arrowHead(g, p0, p1, 9, 4.5, "#f0aa34");
    });
  }

  renderVolume() {
    const g = this.gVol;
    const base = this.yVol(0);
    volumeWan.forEach((v, i) => {
      const [o, , , c] = ohlc[i];
      const cx = this.x(i);
      const top = this.yVol(v);
      if (c >= o) {
        g.append("rect").attr("x", cx - 2).attr("y", Math.round(top) + 0.5)
          .attr("width", 5).attr("height", Math.max(0, Math.round(base - top) - 1))
          .attr("fill", "none").attr("stroke", COLORS.up).attr("shape-rendering", "crispEdges");
      } else {
        g.append("rect").attr("x", cx - 2).attr("y", top)
          .attr("width", 6).attr("height", base - top)
          .attr("fill", COLORS.down).attr("shape-rendering", "crispEdges");
      }
    });
    const line = d3.line().x((d) => this.x(d[0])).y((d) => this.yOi(d[1]));
    g.append("path").attr("d", line(oiLine)).attr("fill", "none")
      .attr("stroke", "#f4f4f4").attr("stroke-width", 1.4);
  }

  renderMacd() {
    const g = this.gMacd;
    const zero = this.yMacd(0);
    macdHist.forEach((v, i) => {
      this.vline(g, this.x(i) + 0.5, zero, this.yMacd(v), v >= 0 ? COLORS.histUp : COLORS.histDown);
    });
    const line = d3.line().x((d) => this.x(d[0])).y((d) => this.yMacd(d[1])).curve(d3.curveMonotoneX);
    g.append("path").attr("d", line(deaLine)).attr("fill", "none").attr("stroke", "#e6e2a2").attr("stroke-width", 1.1);
    g.append("path").attr("d", line(diffLine)).attr("fill", "none").attr("stroke", "#f6f6f6").attr("stroke-width", 1.1);
  }

  renderLegends() {
    const g = this.gText;
    this.label(g, 57, 27, "BOLL(26,26,2)", COLORS.y, 13);
    this.chevron(g, 141, 27.5, COLORS.y);
    this.label(g, 158, 27, "MID 3302.23", COLORS.w, 13);
    this.label(g, 239, 27, "TOP 3338.15", COLORS.y, 13);
    this.label(g, 319, 27, "BOTTOM 3266.31", "#d23cd2", 13);

    this.label(g, 58, 535, "CJL", COLORS.y, 13);
    this.chevron(g, 79, 535.5, COLORS.y);
    this.label(g, 95, 535, "成交量", COLORS.w, 12.5, "start", "cjk");
    this.label(g, 134, 535, "115257.00", COLORS.w, 13);
    this.label(g, 202, 535, "持仓量", COLORS.w, 12.5, "start", "cjk");
    this.label(g, 243, 535, "1443666.00", COLORS.w, 13);

    this.label(g, 57, 662, "MACD(12,26,9)", COLORS.y, 13);
    this.chevron(g, 145, 662.5, COLORS.y);
    this.label(g, 162, 662, "DIFF -12.28", COLORS.w, 13);
    this.label(g, 234, 662, "DEA -14.57", COLORS.y, 13);
    this.label(g, 309, 662, "4.58", COLORS.w, 13);
  }

  renderSide() {
    const g = this.gSide;
    const L = 1647, R = 1888;
    const rule = "#a01c1c";

    g.append("path").attr("d", `M1640,20 L1647,20 L1647,28 Z`).attr("fill", "#d02020");
    this.label(g, 1650, 13, "M", "#e83030", 13, "start", null, "bold");
    this.label(g, 1665, 17, "热卷2610 hc2610", "#d8d05a", 22, "start", "cjk");

    // order book
    g.append("rect").attr("x", L + 0.5).attr("y", 32.5).attr("width", R - L).attr("height", 257)
      .attr("fill", "none").attr("stroke", rule);
    this.hline(g, L, R, 139, rule);
    this.hline(g, L, R, 244, rule);
    const bookRows = [
      ...askBook.map((d, k) => ({ d, y: 43 + 21.2 * k, side: "ask" })),
      ...bidBook.map((d, k) => ({ d, y: 149 + 21 * k, side: "bid" }))
    ];
    const wBook = d3.scaleLinear().domain([0, d3.max([...askBook, ...bidBook], (d) => d[2])]).range([0, 24]);
    bookRows.forEach(({ d, y, side }) => {
      this.label(g, 1650, y, d[0], "#e6e6e6", 14.5, "start", "cjk");
      this.label(g, 1742, y, d[1], "#dc4646", 16, "end", "num");
      this.label(g, 1806, y, d[2], "#d6d65c", 16, "end", "num");
      const w = Math.max(1, wBook(d[2]));
      g.append("rect").attr("x", 1856 - w).attr("y", y - 3.5).attr("width", w).attr("height", 7)
        .attr("fill", side === "ask" ? "#12d012" : "#e03a3a");
    });
    const wTot = d3.scaleLinear().domain([0, d3.max(bookTotals, (d) => d[2])]).range([0, 24]);
    bookTotals.forEach((d, k) => {
      const y = 257 + 21 * k;
      this.label(g, 1650, y, d[0], "#e6e6e6", 14.5, "start", "cjk");
      this.label(g, 1742, y, d[1], "#dc4646", 16, "end", "num");
      this.label(g, 1806, y, d[2], "#d6d65c", 16, "end", "num");
      const w = Math.max(1, wTot(d[2]));
      g.append("rect").attr("x", 1856 - w).attr("y", y - 3.5).attr("width", w).attr("height", 7)
        .attr("fill", d[3] === "ask" ? "#12d012" : "#e03a3a");
    });

    // quote block
    this.vline(g, 1759.5, 290, 510, rule, "3,3");
    this.hline(g, L, R, 510, rule);
    quoteLeft.forEach((d, k) => {
      const y = 300 + 21.9 * k;
      this.label(g, 1650, y, d[0], "#e6e6e6", 14.5, "start", "cjk");
      this.label(g, 1748, y, d[1], COLORS[d[2]], 13, "end", "num", "bold");
    });
    quoteRight.forEach((d, k) => {
      const y = 300 + 21.9 * k;
      this.label(g, 1768, y, d[0], "#e6e6e6", 14.5, "start", "cjk");
      this.label(g, 1878, y, d[1], COLORS[d[2]], 13, "end", "num", "bold");
      if (d[0] === "均价") {
        g.append("path").attr("d", `M1800,${y - 2} L1808,${y - 2} L1804,${y + 3} Z`).attr("fill", "#9a9a9a");
      }
    });

    // trade ticks
    const hy = 523;
    this.label(g, 1652, hy, "时间", "#9c9c9c", 14, "start", "cjk");
    this.label(g, 1735, hy, "价位", "#9c9c9c", 14, "start", "cjk");
    this.label(g, 1775, hy, "现手", "#9c9c9c", 14, "start", "cjk");
    this.label(g, 1810, hy, "增仓", "#9c9c9c", 14, "start", "cjk");
    this.label(g, 1847, hy, "开平", "#9c9c9c", 14, "start", "cjk");
    trades.forEach((d, k) => {
      const y = 544 + 24 * k;
      this.label(g, 1653, y, d[0], "#b4b4b4", 13, "start", "num", "bold");
      this.label(g, 1763, y, d[1], COLORS.r, 13, "end", "num", "bold");
      this.label(g, 1803, y, d[2], d[3] === "g" ? COLORS.g : COLORS.r, 13, "end", "num", "bold");
      this.label(g, 1837, y, d[4], COLORS.y, 13, "end", "num", "bold");
      this.label(g, 1847, y, d[5], "#e0dca0", 14, "start", "cjk");
    });
    this.label(g, 1644, 544 + 24 * (trades.length - 1), "›", COLORS.y, 16, "start", "num", "bold");

    // scrollbar
    g.append("rect").attr("x", 1882).attr("y", 733).attr("width", 6).attr("height", 57).attr("rx", 3).attr("fill", "#5c5c5c");
    g.append("rect").attr("x", 1882).attr("y", 779).attr("width", 6).attr("height", 11).attr("rx", 3).attr("fill", "#2aa6ea");

    // bottom tabs
    this.hline(g, L, R, 908, rule);
    const tabX = [1660, 1706, 1751, 1796];
    tabs.forEach((t, k) => {
      const x0 = tabX[k], x1 = x0 + 45;
      g.append("path").attr("d", `M${x0},908 L${x0 + 5},927 L${x1 - 5},927 L${x1},908`)
        .attr("fill", "none").attr("stroke", rule);
      this.label(g, (x0 + x1) / 2, 918, t, k === 0 ? "#d8d8d8" : "#a8a8a8", 13.5, "middle", "cjk");
    });
  }
}

new FuturesChart({ el: document.querySelector("#chart") });
</script>
</body>
</html>
